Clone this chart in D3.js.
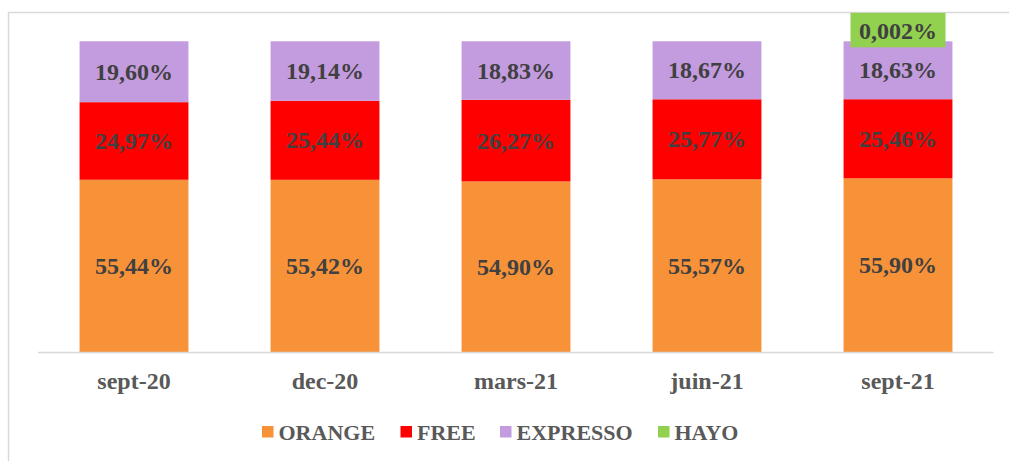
<!DOCTYPE html>
<html>
<head>
<meta charset="utf-8">
<script src="https://cdn.jsdelivr.net/npm/d3@7"></script>
<style>
  body { margin: 0; background: #fff; }
  svg { display: block; font-family: "Liberation Serif", "Times New Roman", serif; font-weight: bold; }
</style>
</head>
<body>
<div id="container1"></div>
<script>
// chart data
const categories = ['sept-20', 'dec-20', 'mars-21', 'juin-21', 'sept-21'];
const seriesNames = ['ORANGE', 'FREE', 'EXPRESSO', 'HAYO'];
const orange = [55.44, 55.42, 54.90, 55.57, 55.90];
const free = [24.97, 25.44, 26.27, 25.77, 25.46];
const expresso = [19.60, 19.14, 18.83, 18.67, 18.63];
const hayo = [0, 0, 0, 0, 0.002];
const colors = ['#F79239', '#FF0000', '#C39BDF', '#92D050'];

(function(){
    const width = 1009, height = 461;
    const svg = d3.select('#container1')
        .append('svg')
        .attr('width', width)
        .attr('height', height);

    // chart border
    svg.append('rect')
        .attr('x', 8.5).attr('y', 12.5)
        .attr('width', 1010).attr('height', 460)
        .attr('fill', 'none')
        .attr('stroke', '#d9d9d9')
        .attr('stroke-width', 1.5);

    const rows = categories.map((c, i) => ({
        cat: c, ORANGE: orange[i], FREE: free[i], EXPRESSO: expresso[i], HAYO: hayo[i]
    }));
    const stacked = d3.stack().keys(seriesNames)(rows);

    const x = d3.scaleBand()
        .domain(categories)
        .range([38.5, 993.5])
        .paddingInner(0.43)
        .paddingOuter(0.215);

    const y = d3.scaleLinear()
        .domain([0, 100])
        .range([352, 41.3]);

    const color = d3.scaleOrdinal().domain(seriesNames).range(colors);

    // bars
    const groups = svg.selectAll('.series')
        .data(stacked)
        .enter()
        .append('g')
        .attr('class', 'series')
        .attr('fill', d => color(d.key));

    groups.selectAll('rect')
        .data(d => d)
        .enter()
        .append('rect')
        .attr('x', d => x(d.data.cat))
        .attr('y', d => y(d[1]))
        .attr('width', x.bandwidth())
        .attr('height', d => Math.max(0, y(d[0]) - y(d[1])));

    // x axis line
    svg.append('line')
        .attr('x1', 38).attr('x2', 993.5)
        .attr('y1', 352.5).attr('y2', 352.5)
        .attr('stroke', '#d9d9d9')
        .attr('stroke-width', 1.5);

    const fmt = v => v.toFixed(2).replace('.', ',') + '%';

    // data labels for main segments
    stacked.slice(0, 3).forEach(s => {
        svg.append('g').selectAll('text')
            .data(s)
            .enter()
            .append('text')
            .attr('x', d => x(d.data.cat) + x.bandwidth() / 2)
            .attr('y', d => (y(d[0]) + y(d[1])) / 2 + 8)
            .attr('text-anchor', 'middle')
            .attr('font-size', '24px')
            .attr('fill', '#404040')
            .text(d => fmt(d.data[s.key]));
    });

    // HAYO label, boxed in green above the last bar
    const hayoSeries = stacked[3].filter(d => d.data.HAYO > 0);
    const hg = svg.append('g').selectAll('g')
        .data(hayoSeries)
        .enter()
        .append('g');
    hg.append('rect')
        .attr('x', d => x(d.data.cat) + x.bandwidth() / 2 - 47.5)
        .attr('y', d => y(d[1]) - 28.5)
        .attr('width', 95)
        .attr('height', 34.5)
        .attr('fill', color('HAYO'));
    hg.append('text')
        .attr('x', d => x(d.data.cat) + x.bandwidth() / 2)
        .attr('y', d => y(d[1]) - 2)
        .attr('text-anchor', 'middle')
        .attr('font-size', '24px')
        .attr('fill', '#404040')
        .text(d => d.data.HAYO.toFixed(3).replace('.', ',') + '%');

    // category labels
    svg.append('g').selectAll('text')
        .data(categories)
        .enter()
        .append('text')
        .attr('x', d => x(d) + x.bandwidth() / 2)
        .attr('y', 389)
        .attr('text-anchor', 'middle')
        .attr('font-size', '24px')
        .attr('fill', '#595959')
        .text(d => d);

    // legend
    const legendX = [262, 400.5, 500, 658];
    const legend = svg.append('g').selectAll('g')
        .data(seriesNames)
        .enter()
        .append('g')
        .attr('transform', (d, i) => `translate(${legendX[i]},0)`);
    legend.append('rect')
        .attr('x', 0).attr('y', 426)
        .attr('width', 11.5).attr('height', 11.5)
        .attr('fill', d => color(d));
    legend.append('text')
        .attr('x', 16.5)
        .attr('y', 439.5)
        .attr('font-size', '22px')
        .attr('fill', '#595959')
        .text(d => d);
})();
</script>
</body>
</html>
